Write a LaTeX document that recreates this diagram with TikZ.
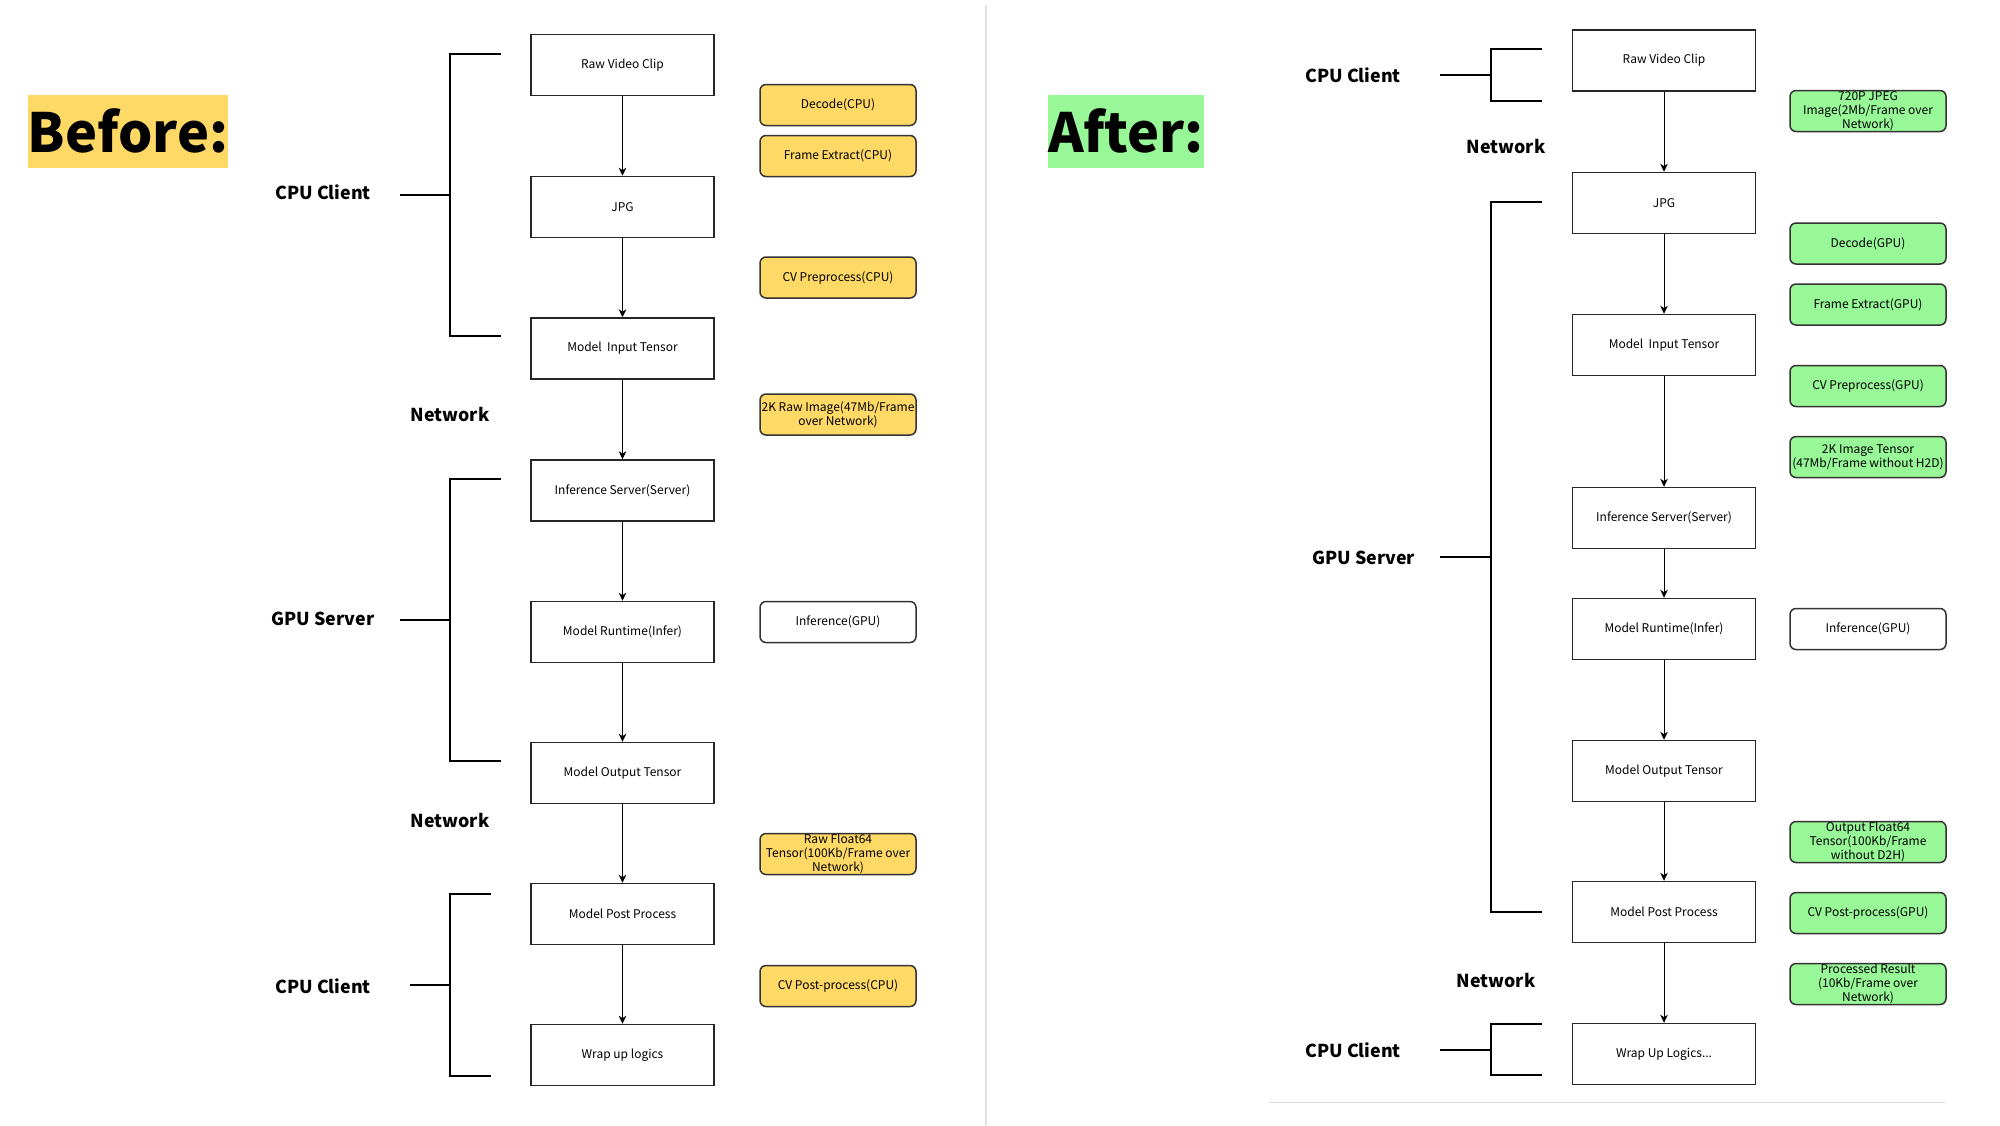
\documentclass[tikz,border=0pt]{standalone}
\usepackage{fontspec}
\setmainfont{Noto Sans CJK SC}
\usetikzlibrary{arrows.meta}
\definecolor{hlYellow}{HTML}{FFD966}
\definecolor{hlGreen}{HTML}{98F898}

\begin{document}
\begin{tikzpicture}[
    x=0.5pt, y=-0.5pt,
    stagebox/.style={draw=black!85, line width=0.75pt, minimum width=91.5pt,
        minimum height=30.5pt, inner sep=0pt, font=\fontsize{6}{7}\selectfont},
    sidebox/.style={draw=black!80, line width=0.75pt, rounded corners=3pt,
        minimum width=78pt, minimum height=20.5pt, inner sep=0pt, align=center,
        font=\fontsize{6}{7}\selectfont},
    cpu/.style={sidebox, fill=hlYellow},
    gpu/.style={sidebox, fill=hlGreen},
    idle/.style={sidebox, fill=white},
    flow/.style={-{Stealth[length=4pt, width=3.8pt, inset=1.2pt]}, line width=0.5pt},
    brace/.style={line width=1pt},
    grp/.style={font=\fontsize{8.9}{11}\bfseries\selectfont},
    headline/.style={font=\fontsize{27}{31}\bfseries\selectfont, inner sep=0pt,
        minimum height=36.5pt},
]
\useasboundingbox (0,0) rectangle (2000,1125);

% Divider between the two halves
\draw[black!12, line width=1pt] (986,5) -- (986,1125);
\draw[black!15, line width=0.5pt] (1269,1102) -- (1945,1102);

% ---------------- Before ----------------
\node[headline, fill=hlYellow, minimum width=100pt] (before) at (128,131) {Before:};

\def\bx{622.5}
\node[stagebox] (b1) at (\bx,65)    {Raw Video Clip};
\node[stagebox] (b2) at (\bx,207)   {JPG};
\node[stagebox] (b3) at (\bx,348.5) {Model\ \ Input Tensor};
\node[stagebox] (b4) at (\bx,490.5) {Inference Server(Server)};
\node[stagebox] (b5) at (\bx,632)   {Model Runtime(Infer)};
\node[stagebox] (b6) at (\bx,773)   {Model Output Tensor};
\node[stagebox] (b7) at (\bx,914)   {Model Post Process};
\node[stagebox] (b8) at (\bx,1055)  {Wrap up logics};

% Side notes
\def\bs{838}
\node[cpu]  (bdec)  at (\bs,105) {Decode(CPU)};
\node[cpu]  (bfrm)  at (\bs,156) {Frame Extract(CPU)};
\node[cpu]  (bpre)  at (\bs,277.5) {CV Preprocess(CPU)};
\node[cpu]  (braw)  at (\bs,414.5) {2K Raw Image(47Mb/Frame\\over Network)};
\node[idle] (binf)  at (\bs,622)   {Inference(GPU)};
\node[cpu]  (bflt)  at (\bs,854)   {Raw Float64\\Tensor(100Kb/Frame over\\Network)};
\node[cpu]  (bpost) at (\bs,986)   {CV Post-process(CPU)};

% Brackets
\draw[brace] (501,53.6) -- (450,53.6) -- (450,335.7) -- (501,335.7);
\draw[brace] (400,194.6) -- (450,194.6);
\draw[brace] (501,479) -- (450,479) -- (450,760.6) -- (501,760.6);
\draw[brace] (400,620) -- (450,620);
\draw[brace] (491,894) -- (450,894) -- (450,1076) -- (491,1076);
\draw[brace] (410,985) -- (450,985);

\node[grp] (bcpu1) at (323,192) {CPU Client};
\node[grp] (bgpu)  at (323,619) {GPU Server};
\node[grp] (bcpu2) at (323,986) {CPU Client};
\node[grp] (bnet1) at (450,415) {Network};
\node[grp] (bnet2) at (450,820) {Network};

% ---------------- After ----------------
\node[headline, fill=hlGreen, minimum width=78pt] (after) at (1126,131) {After:};

\def\ax{1664}
\node[stagebox] (a1) at (\ax,60.5) {Raw Video Clip};
\node[stagebox] (a2) at (\ax,203)  {JPG};
\node[stagebox] (a3) at (\ax,345)  {Model\ \ Input Tensor};
\node[stagebox] (a4) at (\ax,518)  {Inference Server(Server)};
\node[stagebox] (a5) at (\ax,629)  {Model Runtime(Infer)};
\node[stagebox] (a6) at (\ax,771)  {Model Output Tensor};
\node[stagebox] (a7) at (\ax,912)  {Model Post Process};
\node[stagebox] (a8) at (\ax,1054) {Wrap Up Logics...};

\def\as{1868}
\node[gpu]  (ajpg)  at (\as,111)   {720P JPEG\\Image(2Mb/Frame over\\Network)};
\node[gpu]  (adec)  at (\as,243.5) {Decode(GPU)};
\node[gpu]  (afrm)  at (\as,304.5) {Frame Extract(GPU)};
\node[gpu]  (apre)  at (\as,386)   {CV Preprocess(GPU)};
\node[gpu]  (aten)  at (\as,457)   {2K Image Tensor\\(47Mb/Frame without H2D)};
\node[idle] (ainf)  at (\as,629)   {Inference(GPU)};
\node[gpu]  (aflt)  at (\as,842)   {Output Float64\\Tensor(100Kb/Frame\\without D2H)};
\node[gpu]  (apost) at (\as,913)   {CV Post-process(GPU)};
\node[gpu]  (ares)  at (\as,984)   {Processed Result\\(10Kb/Frame over\\Network)};

% Brackets
\draw[brace] (1542,49) -- (1491,49) -- (1491,100.7) -- (1542,100.7);
\draw[brace] (1440,75) -- (1491,75);
\draw[brace] (1542,201.8) -- (1491,201.8) -- (1491,912) -- (1542,912);
\draw[brace] (1440,557) -- (1491,557);
\draw[brace] (1542,1024) -- (1491,1024) -- (1491,1075) -- (1542,1075);
\draw[brace] (1440,1050) -- (1491,1050);

\node[grp] (acpu1) at (1353,75.7) {CPU Client};
\node[grp] (anet1) at (1506,147)  {Network};
\node[grp] (agpu)  at (1363.5,558) {GPU Server};
\node[grp] (anet2) at (1496,980)  {Network};
\node[grp] (acpu2) at (1353,1050) {CPU Client};

% Flow arrows
\foreach \i/\j in {1/2,2/3,3/4,4/5,5/6,6/7,7/8} {
    \draw[flow] (b\i) -- (b\j);
    \draw[flow] (a\i) -- (a\j);
}

\end{tikzpicture}
\end{document}
